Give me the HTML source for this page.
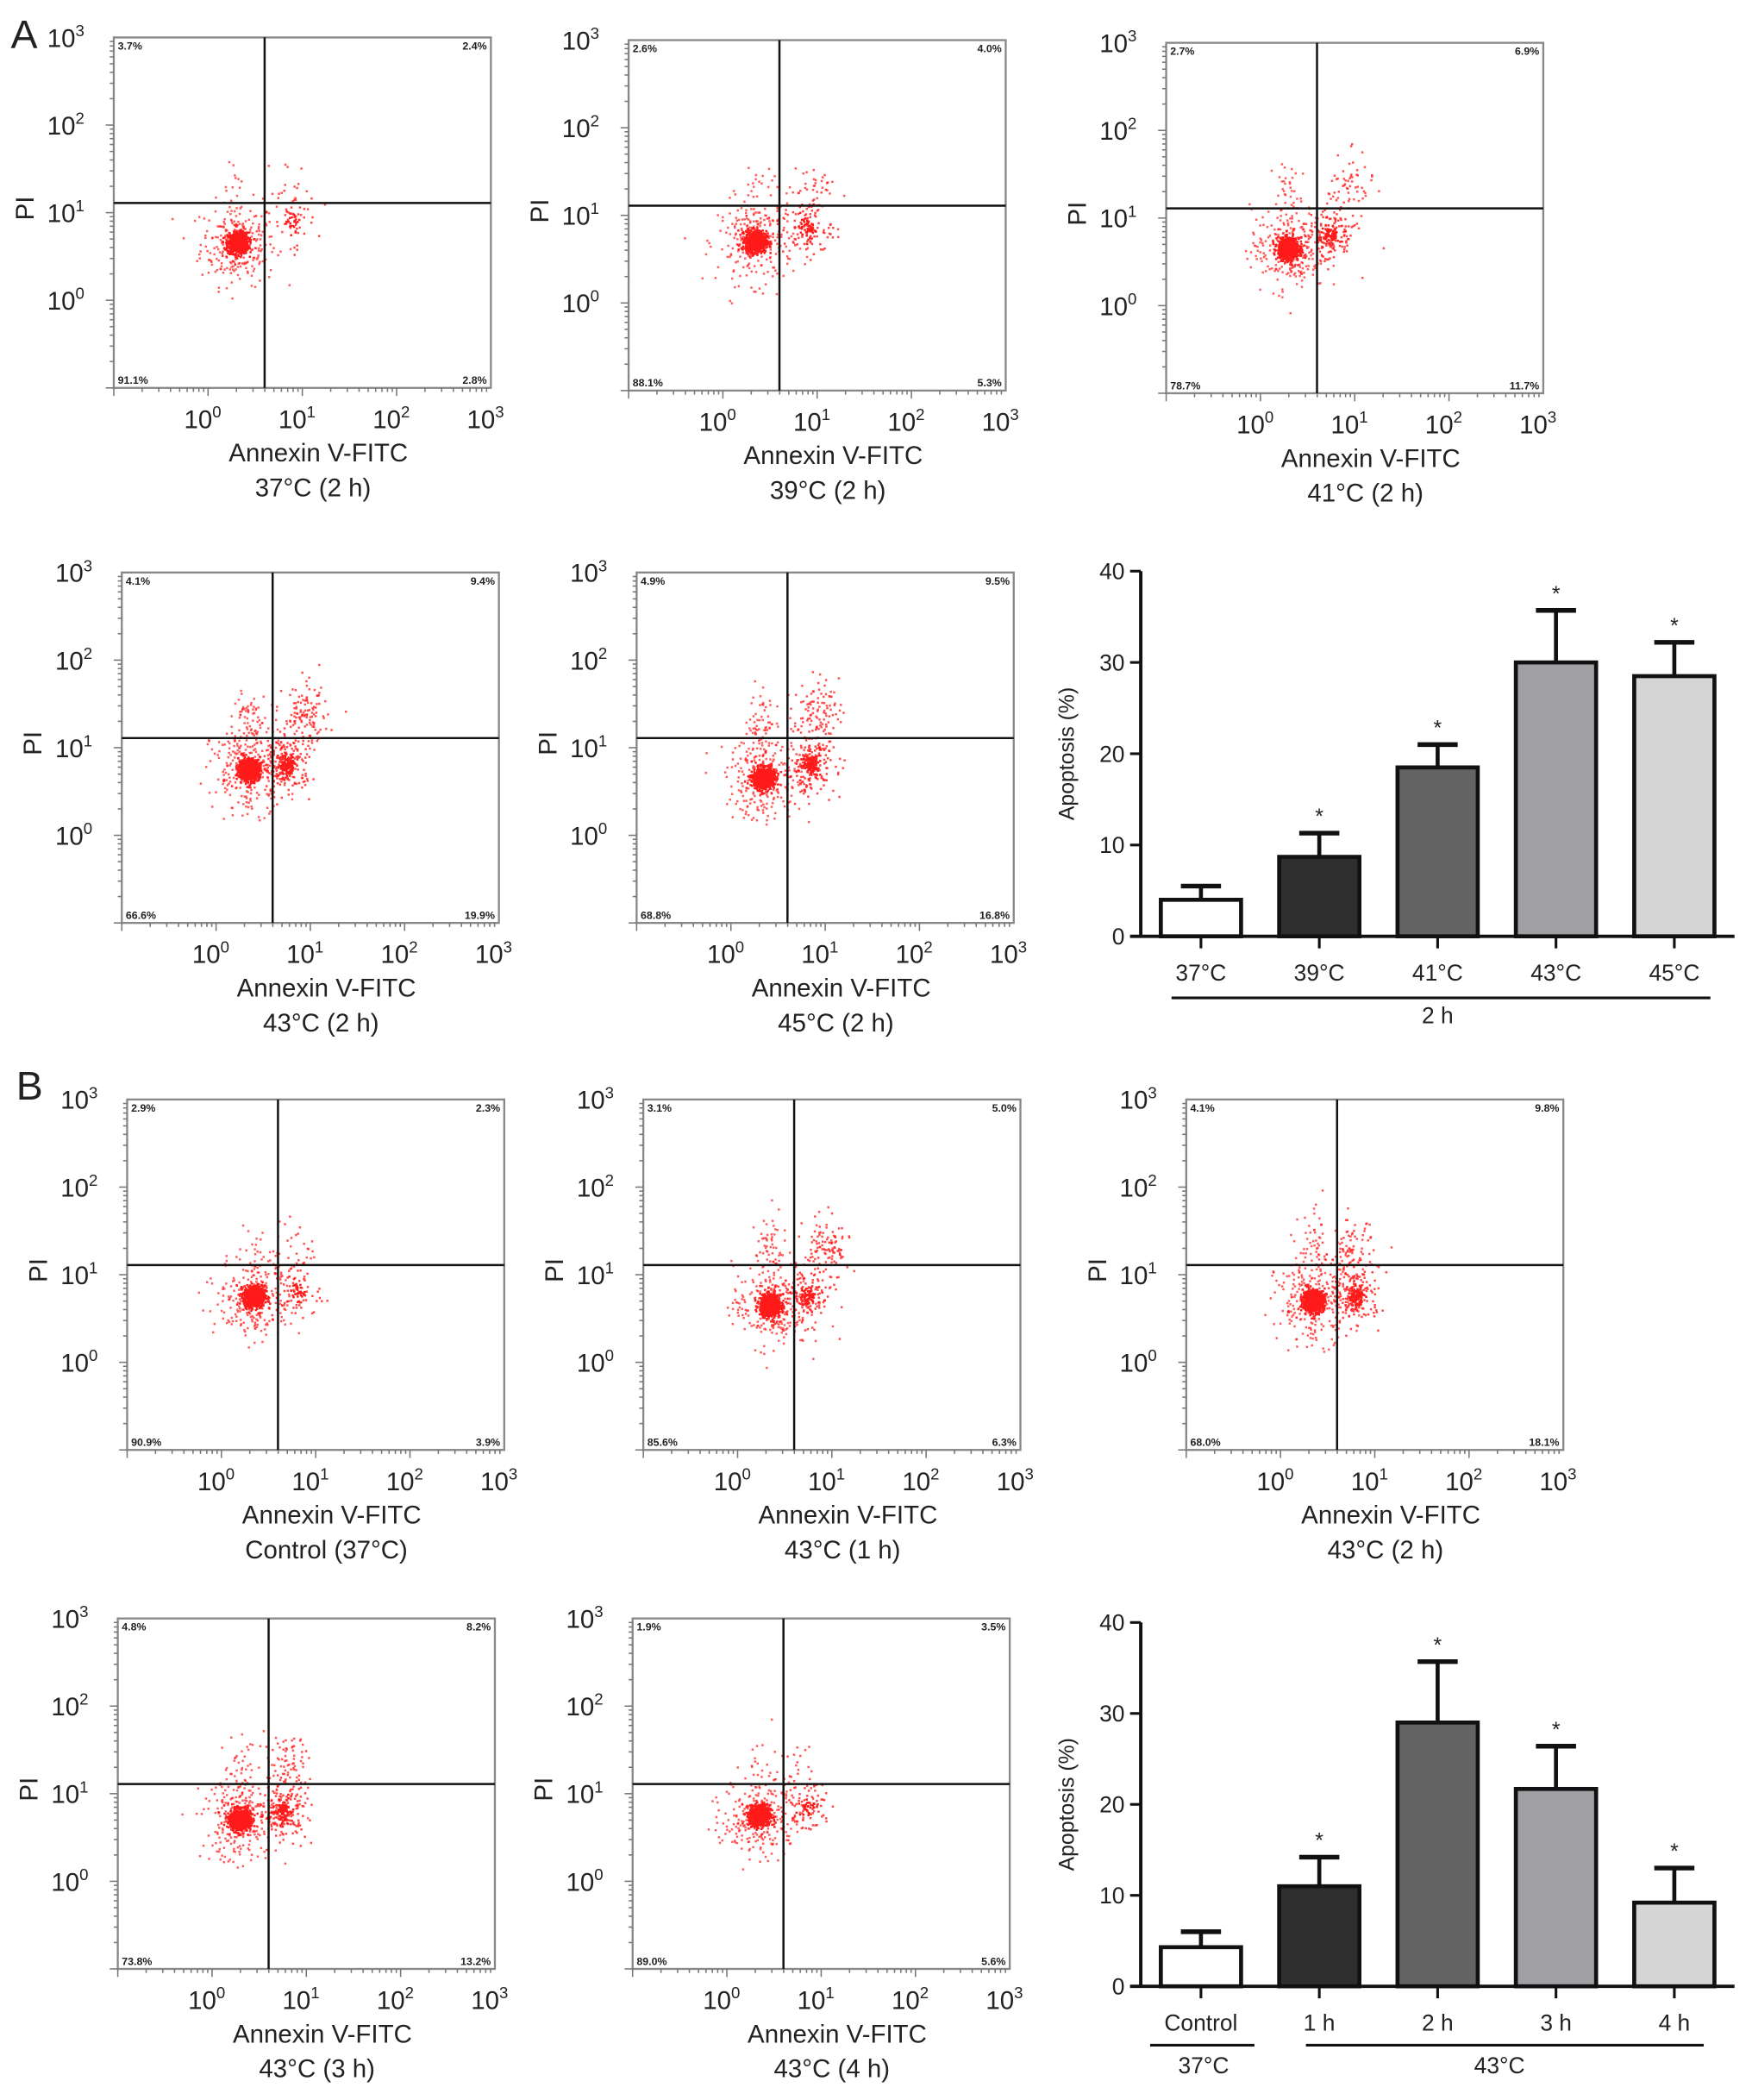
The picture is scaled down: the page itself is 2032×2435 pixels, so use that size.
<!DOCTYPE html>
<html><head><meta charset="utf-8"><style>
html,body{margin:0;padding:0;background:#fff}
svg{display:block}
text{font-family:"Liberation Sans",sans-serif;fill:#222}
</style></head><body>
<svg id="fig" xmlns="http://www.w3.org/2000/svg" width="2032" height="2435" viewBox="0 0 1310 1570">
<text x="8" y="36" font-size="30">A</text>
<text x="12" y="822" font-size="30">B</text>
<g id="flow"></g>
<g id="barA"></g>
<g id="barB"></g>
</svg>
<script>
// ---------- Bar chart data ----------
const catsA = ["37°C","39°C","41°C","43°C","45°C"];
const valsA = [4.0, 8.7, 18.5, 30.0, 28.5];
const errA  = [1.5, 2.6, 2.5, 5.7, 3.7];
const catsB = ["Control","1 h","2 h","3 h","4 h"];
const valsB = [4.3, 11.0, 29.0, 21.7, 9.2];
const errB  = [1.7, 3.2, 6.7, 4.7, 3.8];
const yTicks = [0,10,20,30,40];
const starsA = [false,true,true,true,true];
const starsB = [false,true,true,true,true];

// ---------- Flow panels data ----------
const panelCaptions = ["37°C (2 h)","39°C (2 h)","41°C (2 h)","43°C (2 h)","45°C (2 h)","Control (37°C)","43°C (1 h)","43°C (2 h)","43°C (3 h)","43°C (4 h)"];
const pctUL = ["3.7%","2.6%","2.7%","4.1%","4.9%","2.9%","3.1%","4.1%","4.8%","1.9%"];
const pctUR = ["2.4%","4.0%","6.9%","9.4%","9.5%","2.3%","5.0%","9.8%","8.2%","3.5%"];
const pctLL = ["91.1%","88.1%","78.7%","66.6%","68.8%","90.9%","85.6%","68.0%","73.8%","89.0%"];
const pctLR = ["2.8%","5.3%","11.7%","19.9%","16.8%","3.9%","6.3%","18.1%","13.2%","5.6%"];
// cluster centres (log10 units) and relative sizes
const mainX = [0.32,0.35,0.30,0.35,0.35,0.35,0.35,0.35,0.30,0.35];
const mainY = [0.65,0.70,0.65,0.75,0.65,0.75,0.65,0.70,0.70,0.75];
const secX  = [0.90,0.90,0.75,0.75,0.85,0.80,0.75,0.80,0.75,0.85];
const secY  = [0.90,0.85,0.80,0.80,0.80,0.80,0.75,0.75,0.80,0.85];
const secN  = [40,90,140,200,180,60,120,180,170,60];
const upX   = [0.85,0.95,0.95,0.95,0.90,0.80,0.95,0.75,0.80,0.80];
const upY   = [1.25,1.30,1.35,1.35,1.40,1.25,1.30,1.25,1.30,1.20];
const upN   = [20,40,60,120,110,30,110,90,80,25];

const NS="http://www.w3.org/2000/svg";
function el(tag,attrs,parent){const e=document.createElementNS(NS,tag);for(const k in attrs)e.setAttribute(k,attrs[k]);parent.appendChild(e);return e;}

const panelPos=[[85,28],[470,30],[872,32],[91,428],[476,428],[95,822],[481,822],[887,822],[88,1210],[473,1210]];
const PW=282, PH=262;
let seed=12345;
function rnd(){seed=(seed*1103515245+12345)%2147483648;return seed/2147483648;}
function gauss(){let u=rnd()||1e-6,v=rnd();return Math.sqrt(-2*Math.log(u))*Math.cos(2*Math.PI*v);}

const flow=document.getElementById('flow');
panelPos.forEach((p,i)=>{
  const [L,T]=p;
  const g=el('g',{},flow);
  
  
  const sx=v=>L+(v+1)/4*PW, sy=v=>T+PH-(v+1)/4*PH;
  // dots
  const dots=el('g',{fill:'#ff1a1a'},g);
  
  
  function cloud(cx,cy,sdx,sdy,n,op){for(let k=0;k<n;k++){const x=cx+gauss()*sdx,y=cy+gauss()*sdy;el('rect',{x:sx(x)-0.8,y:sy(y)-0.8,width:1.6,height:1.6,opacity:op},dots);}}
  cloud(mainX[i],mainY[i],0.2,0.24,260,0.7);
  cloud(mainX[i],mainY[i],0.055,0.06,700,1);
  cloud(secX[i],secY[i],0.13,0.16,secN[i],0.8);
  cloud(secX[i],secY[i],0.04,0.05,Math.round(secN[i]/2),1);
  cloud(upX[i],upY[i],0.12,0.18,upN[i],0.75);
  cloud(mainX[i],1.3,0.08,0.2,Math.round(upN[i]/2),0.7);
  // box
  const box=el('rect',{x:L,y:T,width:PW,height:PH,fill:'none',stroke:'#888',"stroke-width":1.5},g);
  
  
  // minor ticks
  for(let d=-1;d<3;d++){for(let m=1;m<10;m++){const v=d+Math.log10(m);const len=m===1?6:3;
    el('line',{x1:L,x2:L-len,y1:sy(v),y2:sy(v),stroke:'#777',"stroke-width":1},g);
    el('line',{x1:sx(v),x2:sx(v),y1:T+PH,y2:T+PH+len,stroke:'#777',"stroke-width":1},g);}}
  // cross
  el('line',{x1:sx(0.6),x2:sx(0.6),y1:T,y2:T+PH,stroke:'#111',"stroke-width":1.6},g);
  el('line',{x1:L,x2:L+PW,y1:sy(1.11),y2:sy(1.11),stroke:'#111',"stroke-width":1.6},g);
  // tick labels
  for(let d=0;d<=3;d++){
    const ty=el('text',{x:L-22,y:sy(d)+7,"font-size":19,"text-anchor":"end"},g);
    ty.innerHTML='10<tspan dy="-8" font-size="12">'+d+'</tspan>';
    
    
    const tx=el('text',{x:sx(d)-4,y:T+PH+30,"font-size":19,"text-anchor":"middle"},g);
    tx.innerHTML='10<tspan dy="-8" font-size="12">'+d+'</tspan>';
    
    
  }
  const pi=el('text',{x:0,y:0,"font-size":19,"text-anchor":"middle",transform:`translate(${L-60},${sy(1.05)}) rotate(-90)`},g);
  pi.textContent='PI';
  
  
  const ax=el('text',{x:L+PW/2+12,y:T+PH+55,"font-size":19,"text-anchor":"middle"},g);
  ax.textContent='Annexin V-FITC';
  
  
  const cap=el('text',{x:L+PW/2+8,y:T+PH+81,"font-size":19,"text-anchor":"middle"},g);
  cap.textContent=panelCaptions[i];
  
  
  const pf={"font-size":8,"font-weight":"bold","font-family":"Liberation Serif"};
  const a=el('text',Object.assign({x:L+3,y:T+9},pf),g);a.textContent=pctUL[i];
  
  const b=el('text',Object.assign({x:L+PW-3,y:T+9,"text-anchor":"end"},pf),g);b.textContent=pctUR[i];
  
  const c=el('text',Object.assign({x:L+3,y:T+PH-3},pf),g);c.textContent=pctLL[i];
  
  const d=el('text',Object.assign({x:L+PW-3,y:T+PH-3,"text-anchor":"end"},pf),g);d.textContent=pctLR[i];
  
});

const fills=["#ffffff","#2e2e2e","#636363","#9f9fa4","#d5d5d5"];
function barChart(gid,cats,vals,errs,stars,ox,y0,y40,xEnd,groupB){
  const g=document.getElementById(gid);
  
  
  const ys=v=>y0-(v/40)*(y0-y40);
  const xs=i=>ox+45+i*88.5;
  const bw=60;
  cats.forEach((c,i)=>{
    const cx=xs(i);
    const top=ys(vals[i]+errs[i]);
    const eb=el('line',{x1:cx,x2:cx,y1:ys(vals[i]),y2:top,stroke:'#111',"stroke-width":3},g);
    
    el('line',{x1:cx-15,x2:cx+15,y1:top,y2:top,stroke:'#111',"stroke-width":3.5},g);
    const r=el('rect',{x:cx-bw/2,y:ys(vals[i]),width:bw,height:y0-ys(vals[i]),fill:fills[i],stroke:'#111',"stroke-width":3},g);
    
    if(stars[i]){const s=el('text',{x:cx,y:top-7,"font-size":16,"text-anchor":"middle"},g);s.textContent='*';
      }
    el('line',{x1:cx,x2:cx,y1:y0,y2:y0+9,stroke:'#111',"stroke-width":2},g);
    const t=el('text',{x:cx,y:y0+33,"font-size":17,"text-anchor":"middle"},g);t.textContent=c;
    
  });
  el('line',{x1:ox,x2:ox,y1:y40,y2:y0,stroke:'#111',"stroke-width":2.5},g);
  el('line',{x1:ox-8,x2:xEnd,y1:y0,y2:y0,stroke:'#111',"stroke-width":2.5},g);
  yTicks.forEach(v=>{
    el('line',{x1:ox-8,x2:ox,y1:ys(v),y2:ys(v),stroke:'#111',"stroke-width":2},g);
    const t=el('text',{x:ox-12,y:ys(v)+6,"font-size":17,"text-anchor":"end"},g);t.textContent=v;
    
  });
  const yt=el('text',{x:0,y:0,"font-size":16,"text-anchor":"middle",transform:`translate(${ox-50},${(y0+y40)/2}) rotate(-90)`},g);
  yt.textContent='Apoptosis (%)';
  
  if(!groupB){
    el('line',{x1:xs(0)-22,x2:xs(4)+27,y1:y0+46,y2:y0+46,stroke:'#111',"stroke-width":2},g);
    const t=el('text',{x:(xs(0)+xs(4))/2,y:y0+65,"font-size":17,"text-anchor":"middle"},g);t.textContent='2 h';
    
  } else {
    el('line',{x1:xs(0)-38,x2:xs(0)+40,y1:y0+44,y2:y0+44,stroke:'#111',"stroke-width":2},g);
    el('line',{x1:xs(1)-10,x2:xs(4)+22,y1:y0+44,y2:y0+44,stroke:'#111',"stroke-width":2},g);
    const t1=el('text',{x:xs(0)+2,y:y0+65,"font-size":17,"text-anchor":"middle"},g);t1.textContent='37°C';
    
    const t2=el('text',{x:(xs(1)+xs(4))/2+2,y:y0+65,"font-size":17,"text-anchor":"middle"},g);t2.textContent='43°C';
    
  }
}
barChart('barA',catsA,valsA,errA,starsA,853,700,427,1297,false);
barChart('barB',catsB,valsB,errB,starsB,853,1485,1213,1297,true);
</script>
</body></html>
